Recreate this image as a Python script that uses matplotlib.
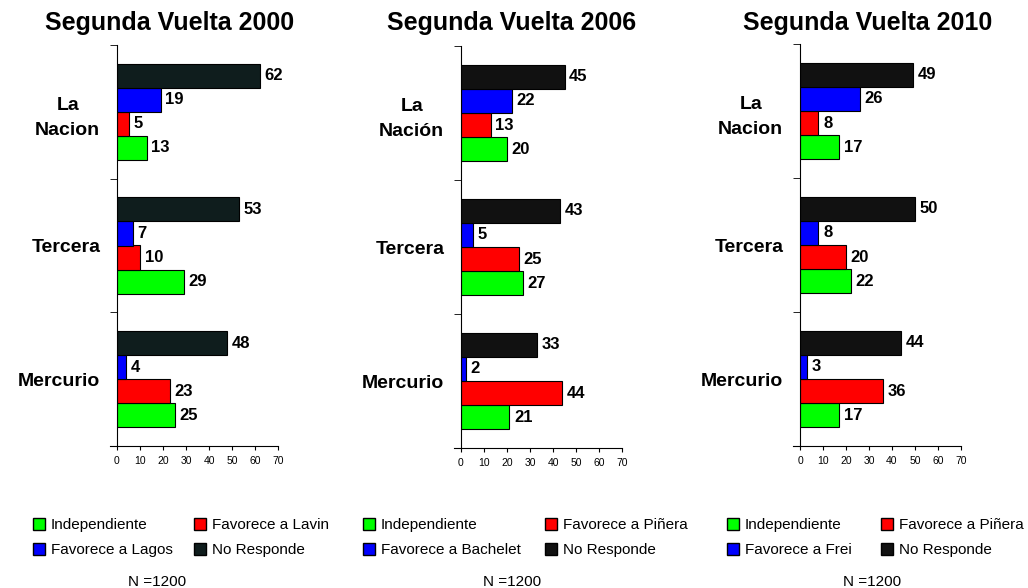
import matplotlib
matplotlib.use("Agg")
import matplotlib.pyplot as plt
from matplotlib.patches import Patch

plt.rcParams['font.family'] = ['Liberation Sans', 'DejaVu Sans']

# data
medios = ["Mercurio", "Tercera", "La\nNacion"]
medios_2006 = ["Mercurio", "Tercera", "La\nNación"]
titulos = ["Segunda Vuelta 2000", "Segunda Vuelta 2006", "Segunda Vuelta 2010"]

# order: Mercurio, Tercera, La Nacion
indep_2000 = [25, 29, 13]
der_2000 = [23, 10, 5]
izq_2000 = [4, 7, 19]
nr_2000 = [48, 53, 62]

indep_2006 = [21, 27, 20]
der_2006 = [44, 25, 13]
izq_2006 = [2, 5, 22]
nr_2006 = [33, 43, 45]

indep_2010 = [17, 22, 17]
der_2010 = [36, 20, 8]
izq_2010 = [3, 8, 26]
nr_2010 = [44, 50, 49]

nombres_der = ["Favorece a Lavin", "Favorece a Piñera", "Favorece a Piñera"]
nombres_izq = ["Favorece a Lagos", "Favorece a Bachelet", "Favorece a Frei"]

paneles = [
    (medios, indep_2000, der_2000, izq_2000, nr_2000, "#0f1d1d"),
    (medios_2006, indep_2006, der_2006, izq_2006, nr_2006, "#111111"),
    (medios, indep_2010, der_2010, izq_2010, nr_2010, "#111111"),
]

W, H = 1028, 588
fig = plt.figure(figsize=(W / 100, H / 100), dpi=100)

# axes boxes in pixels: left, right, top, bottom
cajas = [(117, 278, 45, 446), (461, 622, 46, 448), (800, 961, 44, 446)]
centros_titulo = [170, 512, 868]
leg_x = [(33, 194), (363, 545), (727, 881)]
n_x = [157, 512, 872]

h = 0.18
verde, rojo, azul = "#00ff00", "#ff0000", "#0000ff"

for k, (labs, ind, der, izq, nr, negro) in enumerate(paneles):
    l, r, t, b = cajas[k]
    ax = fig.add_axes([l / W, 1 - b / H, (r - l) / W, (b - t) / H])
    y = [0.5, 1.5, 2.5]
    series = [(ind, verde, -1.5), (der, rojo, -0.5), (izq, azul, 0.5), (nr, negro, 1.5)]
    for vals, col, off in series:
        pos = [v + off * h for v in y]
        ax.barh(pos, vals, height=h, color=col, edgecolor="black", linewidth=0.8)
        for p, v in zip(pos, vals):
            ax.text(v + 2.0, p, str(v), va="center", ha="left",
                    fontsize=12, fontweight="bold")
    ax.set_xlim(0, 70)
    ax.set_ylim(0, 3)
    ax.set_xticks(range(0, 71, 10))
    ax.tick_params(axis="x", labelsize=7.5, length=3, pad=4)
    ax.set_yticks(y)
    ax.set_yticklabels(labs, fontsize=14, fontweight="bold")
    for lab in ax.get_yticklabels():
        lab.set_multialignment("center")
        lab.set_linespacing(1.6)
    ax.tick_params(axis="y", length=0, pad=12)
    ax.set_yticks([0, 1, 2, 3], minor=True)
    ax.tick_params(axis="y", which="minor", length=5)
    ax.spines["top"].set_visible(False)
    ax.spines["right"].set_visible(False)
    ax.spines["bottom"].set_bounds(-3, 70)
    fig.text(centros_titulo[k] / W, 1 - 23 / H, titulos[k], ha="center",
             va="center", fontsize=18, fontweight="bold")

    col1 = [Patch(facecolor=verde, edgecolor="black", label="Independiente"),
            Patch(facecolor=azul, edgecolor="black", label=nombres_izq[k])]
    col2 = [Patch(facecolor=rojo, edgecolor="black", label=nombres_der[k]),
            Patch(facecolor=negro, edgecolor="black", label="No Responde")]
    for x0, hs in zip(leg_x[k], [col1, col2]):
        fig.legend(handles=hs, loc="upper left",
                   bbox_to_anchor=(x0 / W, 1 - 518 / H), frameon=False,
                   fontsize=11, handlelength=0.8, handleheight=0.8,
                   handletextpad=0.35, labelspacing=0.72, borderpad=0,
                   borderaxespad=0)
    fig.text(n_x[k] / W, 1 - 582 / H, "N =1200", ha="center", va="center",
             fontsize=11)

fig.savefig("out.png", dpi=100)
